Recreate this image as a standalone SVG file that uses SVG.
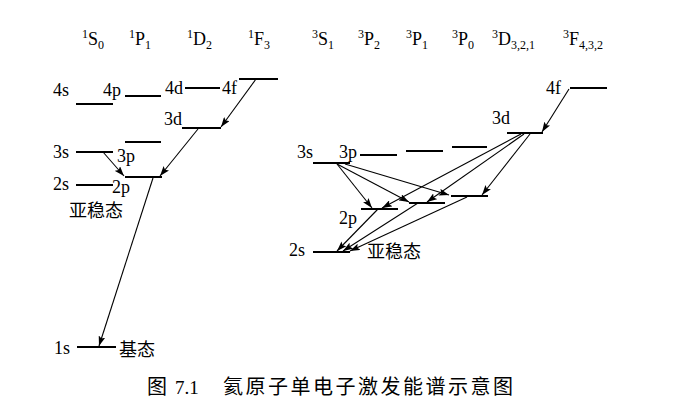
<svg xmlns="http://www.w3.org/2000/svg" width="680" height="414" viewBox="0 0 680 414">
<style>
.t{font-family:"Liberation Serif","Times New Roman",serif;font-size:18px;fill:#000}
.cjk{font-family:"Noto Sans CJK SC",sans-serif;font-size:18px;fill:#000}
.lv{stroke:#000;stroke-width:2;fill:none}
.ar{stroke:#000;stroke-width:1.1;fill:none;marker-end:url(#ah)}
.s{font-size:12px}
</style>
<defs>
<marker id="ah" markerUnits="userSpaceOnUse" markerWidth="11" markerHeight="7" refX="10" refY="3.5" orient="auto">
<path d="M0,0 L10,3.5 L0,7 L2,3.5 z" fill="#000"/>
</marker>
</defs>
<rect width="680" height="414" fill="#fff"/>
<g id="terms">
<text class="t" x="82" y="45"><tspan class="s" dy="-7">1</tspan><tspan dy="7">S</tspan><tspan class="s" dy="4">0</tspan></text>
<text class="t" x="129" y="45"><tspan class="s" dy="-7">1</tspan><tspan dy="7">P</tspan><tspan class="s" dy="4">1</tspan></text>
<text class="t" x="187" y="45"><tspan class="s" dy="-7">1</tspan><tspan dy="7">D</tspan><tspan class="s" dy="4">2</tspan></text>
<text class="t" x="248" y="45"><tspan class="s" dy="-7">1</tspan><tspan dy="7">F</tspan><tspan class="s" dy="4">3</tspan></text>
<text class="t" x="312" y="45"><tspan class="s" dy="-7">3</tspan><tspan dy="7">S</tspan><tspan class="s" dy="4">1</tspan></text>
<text class="t" x="358" y="45"><tspan class="s" dy="-7">3</tspan><tspan dy="7">P</tspan><tspan class="s" dy="4">2</tspan></text>
<text class="t" x="406" y="45"><tspan class="s" dy="-7">3</tspan><tspan dy="7">P</tspan><tspan class="s" dy="4">1</tspan></text>
<text class="t" x="452" y="45"><tspan class="s" dy="-7">3</tspan><tspan dy="7">P</tspan><tspan class="s" dy="4">0</tspan></text>
<text class="t" x="492" y="45"><tspan class="s" dy="-7">3</tspan><tspan dy="7">D</tspan><tspan class="s" dy="4">3,2,1</tspan></text>
<text class="t" x="563" y="45"><tspan class="s" dy="-7">3</tspan><tspan dy="7">F</tspan><tspan class="s" dy="4">4,3,2</tspan></text>
</g>
<g id="singlet-4s"><text class="t" x="53" y="96">4s</text><line class="lv" x1="76" y1="104" x2="113" y2="104"/></g>
<g id="singlet-4p"><text class="t" x="103" y="96">4p</text><line class="lv" x1="125" y1="96" x2="161" y2="96"/></g>
<g id="singlet-4d"><text class="t" x="165" y="94">4d</text><line class="lv" x1="185" y1="88" x2="220" y2="88"/></g>
<g id="singlet-4f"><text class="t" x="222" y="94">4f</text><line class="lv" x1="239" y1="79" x2="278" y2="79"/></g>
<g id="singlet-3d"><text class="t" x="164" y="125">3d</text><line class="lv" x1="182" y1="128" x2="221" y2="128"/></g>
<g id="singlet-3p"><text class="t" x="117" y="162">3p</text><line class="lv" x1="125" y1="142" x2="161" y2="142"/></g>
<g id="singlet-3s"><text class="t" x="53" y="158">3s</text><line class="lv" x1="76" y1="152" x2="113" y2="152"/></g>
<g id="singlet-2p"><text class="t" x="112" y="193">2p</text><line class="lv" x1="125" y1="177" x2="162" y2="177"/><text class="cjk" x="69" y="217">亚稳态</text></g>
<g id="singlet-2s"><text class="t" x="53" y="190">2s</text><line class="lv" x1="76" y1="185" x2="113" y2="185"/></g>
<g id="ground-1s"><text class="t" x="54" y="354">1s</text><line class="lv" x1="77" y1="347" x2="116" y2="347"/><text class="cjk" x="119" y="356">基态</text></g>
<g id="triplet-4f"><text class="t" x="546" y="94">4f</text><line class="lv" x1="570" y1="88" x2="607" y2="88"/></g>
<g id="triplet-3d"><text class="t" x="492" y="124">3d</text><line class="lv" x1="507" y1="133" x2="543" y2="133"/></g>
<g id="triplet-3s"><text class="t" x="297" y="158">3s</text><line class="lv" x1="313" y1="163" x2="350" y2="163"/></g>
<g id="triplet-3p"><text class="t" x="339" y="158">3p</text><line class="lv" x1="360" y1="155" x2="397" y2="155"/><line class="lv" x1="406" y1="151" x2="443" y2="151"/><line class="lv" x1="452" y1="147" x2="487" y2="147"/></g>
<g id="triplet-2p"><text class="t" x="339" y="224">2p</text><line class="lv" x1="361" y1="209" x2="398" y2="209"/><line class="lv" x1="409" y1="203" x2="445" y2="203"/><line class="lv" x1="451" y1="196" x2="488" y2="196"/></g>
<g id="triplet-2s"><text class="t" x="289" y="256">2s</text><line class="lv" x1="313" y1="252" x2="350" y2="252"/><text class="cjk" x="367" y="258">亚稳态</text></g>
<g id="connectors">
<line class="ar" x1="256" y1="79" x2="221" y2="127"/>
<line class="ar" x1="103" y1="152" x2="124" y2="176"/>
<line class="ar" x1="198" y1="129" x2="160" y2="176"/>
<line class="ar" x1="153" y1="178" x2="99" y2="346"/>
<line class="ar" x1="569" y1="89" x2="542" y2="132"/>
<line class="ar" x1="337" y1="164" x2="372" y2="208"/>
<line class="ar" x1="337" y1="164" x2="409" y2="202"/>
<line class="ar" x1="345" y1="164" x2="449" y2="195"/>
<line class="ar" x1="521" y1="134" x2="382" y2="208"/>
<line class="ar" x1="524" y1="134" x2="427" y2="202"/>
<line class="ar" x1="530" y1="134" x2="482" y2="195"/>
<line class="ar" x1="378" y1="209" x2="337" y2="251"/>
<line class="ar" x1="418" y1="203" x2="343" y2="251"/>
<line class="ar" x1="467" y1="197" x2="350" y2="251"/>
</g>
<g id="caption">
<text class="cjk" x="147" y="394" style="font-size:20px">图</text>
<text class="t" x="175" y="394" style="font-size:19px">7.1</text>
<text class="cjk" x="223" y="394" style="font-size:20px" textLength="290" lengthAdjust="spacing">氦原子单电子激发能谱示意图</text>
</g>
</svg>
